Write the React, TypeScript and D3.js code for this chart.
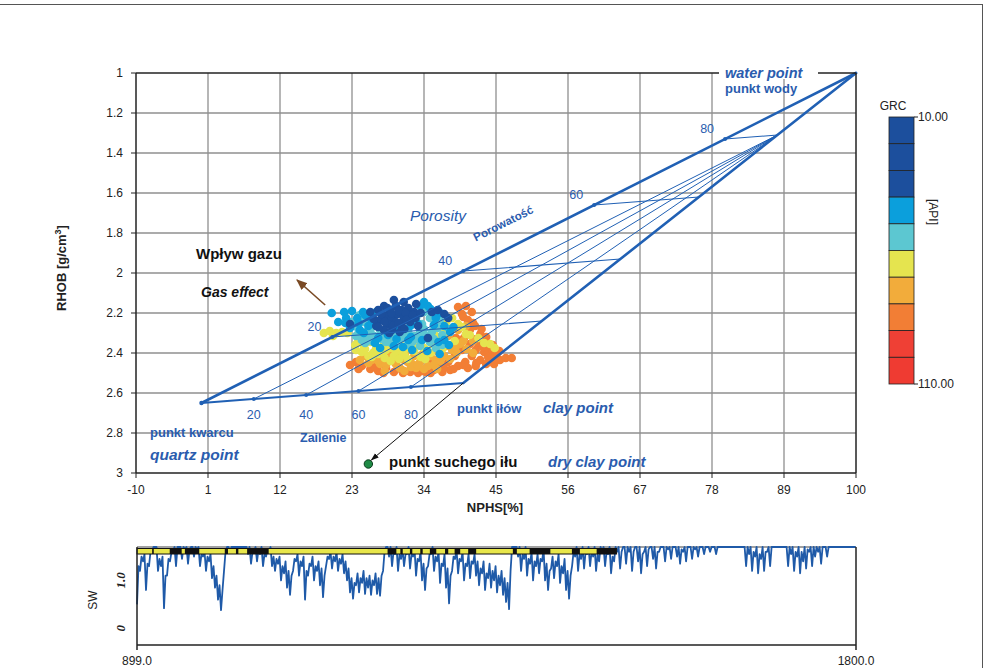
import React from "react";
import * as d3 from "d3";

// Axis ticks of the density–neutron crossplot
const NPHS_TICKS = [-10, 1, 12, 23, 34, 45, 56, 67, 78, 89, 100];
const RHOB_TICKS = [1, 1.2, 1.4, 1.6, 1.8, 2, 2.2, 2.4, 2.6, 2.8, 3];

// Lithology end points [NPHS %, RHOB g/cm3]
const QUARTZ_POINT: [number, number] = [0, 2.65];
const CLAY_POINT: [number, number] = [40, 2.55];
const WATER_POINT: [number, number] = [100, 1.0];
const DRY_CLAY_POINT: [number, number] = [25.5, 2.955];

const POROSITY_STEPS = [20, 40, 60, 80];
const SHALE_STEPS = [20, 40, 60, 80];

// GR colour legend (API)
const GR_RANGE: [number, number] = [10, 110];
const GR_COLORS = [
  "#1c4f9d", "#1c4f9d", "#1c4f9d", "#0b9fdc", "#5cc7d1",
  "#e5e44f", "#f2ac3b", "#f27e35", "#ef4035", "#ef3b32",
];

// Log samples [NPHS %, RHOB g/cm3] grouped by GR reading
const SAMPLES_GR85: [number, number][] = [
  [39.2, 2.17], [40.4, 2.165], [41.3, 2.195], [39.8, 2.205], [40.7, 2.235], [41.8, 2.265],
  [42.6, 2.305], [41.0, 2.285], [43.3, 2.335], [42.3, 2.355], [44.1, 2.385], [43.2, 2.395],
  [44.8, 2.415], [44.1, 2.435], [45.6, 2.435], [46.5, 2.425], [47.4, 2.425], [42.6, 2.435],
  [41.3, 2.415], [40.3, 2.445], [39.2, 2.465], [38.0, 2.485], [36.8, 2.495], [35.5, 2.485],
  [34.3, 2.495], [33.1, 2.5], [31.9, 2.495], [30.6, 2.485], [29.4, 2.495], [28.2, 2.475],
  [27.0, 2.49], [25.8, 2.48], [24.5, 2.465], [23.6, 2.445], [41.9, 2.465], [40.7, 2.475],
  [43.5, 2.455], [44.7, 2.455], [41.0, 2.355], [39.8, 2.385], [38.7, 2.415], [37.7, 2.445],
  [36.4, 2.455], [35.2, 2.445], [38.9, 2.325], [40.1, 2.325], [41.9, 2.385], [42.0, 2.33],
  [43.0, 2.37], [45.2, 2.4], [37.0, 2.47], [32.5, 2.48], [30.0, 2.47], [26.5, 2.47],
  [22.7, 2.46], [43.8, 2.42], [45.0, 2.43], [42.0, 2.45], [40.0, 2.46], [38.5, 2.48],
  [35.0, 2.5], [33.8, 2.49], [30.8, 2.5], [27.8, 2.5], [24.0, 2.48], [41.5, 2.25],
  [42.8, 2.28], [43.5, 2.32], [44.5, 2.36], [45.5, 2.39], [40.0, 2.22],
];
const SAMPLES_GR75: [number, number][] = [
  [25.0, 2.415], [26.0, 2.435], [27.3, 2.455], [28.5, 2.435], [29.7, 2.455], [30.9, 2.435],
  [32.2, 2.455], [33.4, 2.445], [34.6, 2.465], [35.8, 2.435], [37.1, 2.415], [38.3, 2.385],
  [39.5, 2.355], [37.4, 2.365], [36.2, 2.395], [35.0, 2.415], [33.8, 2.405], [32.5, 2.415],
  [31.2, 2.395], [30.0, 2.415], [28.8, 2.395], [27.6, 2.415], [26.4, 2.395], [24.2, 2.435],
  [32.8, 2.475], [30.3, 2.475], [37.7, 2.315], [39.2, 2.285], [40.4, 2.265], [25.5, 2.45],
  [27.0, 2.44], [28.2, 2.46], [29.2, 2.44], [31.5, 2.445], [32.0, 2.47], [33.0, 2.46],
  [34.0, 2.48], [35.5, 2.46], [36.5, 2.44], [38.0, 2.43], [39.0, 2.4], [40.5, 2.38],
  [41.5, 2.4], [38.8, 2.37], [40.0, 2.34], [41.5, 2.34], [36.0, 2.48], [28.0, 2.49],
  [31.0, 2.49],
];
const SAMPLES_GR65: [number, number][] = [
  [18.7, 2.3], [19.6, 2.29], [20.6, 2.3], [21.5, 2.295], [20.1, 2.315], [23.9, 2.345],
  [24.8, 2.365], [25.8, 2.345], [26.7, 2.375], [27.9, 2.355], [29.1, 2.375], [30.3, 2.355],
  [31.6, 2.375], [32.8, 2.355], [24.5, 2.395], [25.5, 2.415], [23.6, 2.385], [27.0, 2.405],
  [29.4, 2.415], [28.2, 2.385], [30.6, 2.395], [34.0, 2.375], [35.2, 2.355], [34.2, 2.43],
  [24.2, 2.325], [37.4, 2.245], [38.3, 2.225], [39.2, 2.255], [37.1, 2.295], [36.4, 2.335],
  [35.8, 2.315], [40.4, 2.305], [44.1, 2.355], [44.8, 2.375], [42.3, 2.325], [28.9, 2.44],
  [31.5, 2.43], [23.5, 2.36], [25.0, 2.38], [26.2, 2.4], [27.8, 2.39], [29.8, 2.39],
  [31.0, 2.41], [32.5, 2.39], [33.5, 2.42], [35.0, 2.4], [26.0, 2.42], [28.0, 2.425],
  [30.2, 2.43], [38.7, 2.34], [39.8, 2.27], [41.0, 2.31], [43.2, 2.35], [36.8, 2.38],
  [22.3, 2.3],
];
const SAMPLES_GR55: [number, number][] = [
  [23.0, 2.245], [23.9, 2.275], [24.8, 2.245], [25.1, 2.295], [26.1, 2.265], [26.4, 2.315],
  [27.3, 2.285], [23.6, 2.315], [24.5, 2.335], [25.5, 2.325], [27.9, 2.315], [28.8, 2.335],
  [29.7, 2.305], [30.6, 2.325], [31.6, 2.295], [32.5, 2.315], [33.4, 2.295], [34.3, 2.315],
  [35.2, 2.295], [36.1, 2.275], [34.9, 2.345], [32.2, 2.345], [30.0, 2.355], [33.4, 2.365],
  [35.8, 2.375], [28.2, 2.345], [32.8, 2.225], [34.0, 2.195], [34.9, 2.225], [36.4, 2.235],
  [33.7, 2.255], [24.2, 2.21], [25.0, 2.35], [26.0, 2.34], [27.5, 2.33], [29.2, 2.32],
  [31.0, 2.31], [33.0, 2.33], [35.5, 2.33], [36.8, 2.31], [37.8, 2.28], [34.0, 2.28],
  [31.5, 2.36], [29.0, 2.35], [24.0, 2.3], [25.8, 2.29], [36.8, 2.36],
];
const SAMPLES_GR45: [number, number][] = [
  [19.9, 2.2], [20.9, 2.245], [21.8, 2.195], [23.0, 2.19], [23.8, 2.225], [24.7, 2.195],
  [22.1, 2.225], [25.8, 2.225], [26.7, 2.195], [25.5, 2.265], [27.6, 2.23], [22.7, 2.275],
  [27.0, 2.325], [30.3, 2.285], [31.9, 2.265], [33.1, 2.255], [34.0, 2.145], [34.6, 2.165],
  [33.4, 2.165], [35.8, 2.225], [37.1, 2.265], [38.0, 2.295], [36.2, 2.345], [37.1, 2.335],
  [31.6, 2.335], [29.4, 2.365], [33.7, 2.335], [32.2, 2.385], [36.4, 2.405], [27.3, 2.375],
  [24.2, 2.285], [25.0, 2.21], [26.0, 2.25], [24.0, 2.25], [22.0, 2.25], [35.0, 2.18],
  [36.5, 2.2], [38.5, 2.27], [35.5, 2.26], [32.0, 2.32], [29.8, 2.33], [26.5, 2.35],
  [30.8, 2.37], [34.5, 2.39], [37.8, 2.36], [28.5, 2.31], [24.8, 2.3],
];
const SAMPLES_GR25: [number, number][] = [
  [27.0, 2.185], [27.9, 2.165], [28.8, 2.185], [29.7, 2.165], [30.6, 2.185], [31.6, 2.175],
  [32.5, 2.195], [28.2, 2.215], [29.1, 2.225], [30.0, 2.205], [30.9, 2.225], [31.9, 2.215],
  [27.3, 2.235], [28.5, 2.255], [29.7, 2.245], [30.6, 2.265], [31.9, 2.245], [29.1, 2.285],
  [27.9, 2.285], [30.3, 2.295], [26.7, 2.265], [25.8, 2.195], [32.8, 2.155], [30.9, 2.145],
  [29.4, 2.135], [33.1, 2.265], [32.7, 2.225], [35.2, 2.195], [36.1, 2.185], [37.1, 2.205],
  [37.7, 2.225], [34.6, 2.325], [22.7, 2.255], [28.4, 2.175], [30.1, 2.19], [31.2, 2.2],
  [29.0, 2.2], [27.5, 2.205], [28.0, 2.245], [29.3, 2.265], [30.1, 2.25], [31.3, 2.235],
  [32.3, 2.21], [33.5, 2.2], [26.3, 2.23], [27.0, 2.27], [28.7, 2.3], [31.0, 2.28],
];
const SAMPLE_LAYERS: { gr: number; pts: [number, number][] }[] = [
  { gr: 85, pts: SAMPLES_GR85 },
  { gr: 75, pts: SAMPLES_GR75 },
  { gr: 65, pts: SAMPLES_GR65 },
  { gr: 55, pts: SAMPLES_GR55 },
  { gr: 45, pts: SAMPLES_GR45 },
  { gr: 25, pts: SAMPLES_GR25 },
];

// Water saturation log: per depth step the low reading and the upper excursion
const SW_TOP_DEPTH = 899;
const SW_BASE_DEPTH = 1800;
const SW_STEP = 3.76;
const SW_VALUES = [
  0.50, 1.20, 1.40, 0.80, 1.30, 1.60, 1.70, 1.20, 1.30, 0.42,
  1.10, 1.40, 1.60, 1.30, 1.70, 1.45, 1.65, 1.35, 1.70, 1.50,
  1.65, 1.30, 1.50, 1.20, 1.40, 1.05, 0.85, 0.60, 0.38, 1.20,
  1.70, 1.60, 1.70, 1.70, 1.70, 1.70, 1.70, 1.55, 1.35, 1.60,
  1.40, 1.55, 1.30, 1.50, 1.60, 1.30, 1.20, 1.35, 1.00, 1.15,
  0.85, 0.70, 1.20, 1.40, 1.10, 1.30, 0.60, 1.10, 1.30, 1.00,
  1.20, 0.90, 0.65, 1.30, 1.45, 1.25, 1.40, 1.20, 1.35, 1.15,
  1.00, 0.75, 0.62, 0.90, 0.75, 0.95, 0.72, 0.85, 0.70, 0.90,
  0.72, 0.68, 1.20, 1.70, 1.50, 1.30, 1.55, 1.20, 1.45, 1.30,
  1.55, 1.25, 1.50, 1.10, 1.40, 1.00, 0.80, 1.30, 1.55, 1.20,
  1.40, 0.95, 1.30, 0.85, 0.52, 1.20, 1.45, 1.15, 1.40, 1.00,
  1.30, 1.05, 1.35, 1.10, 0.90, 1.15, 0.80, 1.05, 0.85, 1.00,
  0.75, 0.90, 0.70, 0.55, 0.40, 1.70, 1.70, 1.50, 1.20, 1.45,
  1.10, 1.35, 1.00, 1.30, 1.15, 1.40, 1.00, 0.80, 1.25, 1.05,
  1.30, 0.95, 1.15, 0.80, 0.62, 1.30, 1.50, 1.20, 1.45, 1.25,
  1.55, 1.30, 1.50, 1.20, 1.40, 1.60, 1.30, 1.55, 1.15, 1.40,
  1.60, 1.25, 1.70, 1.35, 1.60, 1.20, 1.70, 1.40, 1.15, 1.60,
  1.30, 1.70, 1.45, 1.25, 1.60, 1.70, 1.40, 1.65, 1.45, 1.70,
  1.50, 1.35, 1.60, 1.40, 1.70, 1.45, 1.65, 1.50, 1.70, 1.55,
  1.70, 1.60, 1.70, 1.55, 1.70, 1.70, 1.70, 1.70, 1.70, 1.70,
  1.70, 1.70, 1.70, 1.30, 1.55, 1.20, 1.50, 1.15, 1.45, 1.20,
  1.60, 1.30, 1.70, 1.70, 1.70, 1.70, 1.70, 1.30, 1.55, 1.20,
  1.50, 1.15, 1.40, 1.25, 1.60, 1.30, 1.50, 1.60, 1.35, 1.70,
  1.50, 1.70, 1.70, 1.70, 1.70, 1.70, 1.70, 1.70, 1.70, 1.70,
];
const SW_PEAKS = [
  1.30, 1.50, 1.55, 1.35, 1.60, 1.70, 1.70, 1.45, 1.50, 1.10,
  1.45, 1.60, 1.70, 1.70, 1.70, 1.70, 1.70, 1.65, 1.70, 1.70,
  1.70, 1.55, 1.60, 1.50, 1.55, 1.30, 1.10, 0.90, 0.80, 1.60,
  1.70, 1.70, 1.70, 1.70, 1.70, 1.70, 1.70, 1.70, 1.60, 1.70,
  1.65, 1.70, 1.55, 1.65, 1.70, 1.50, 1.45, 1.50, 1.30, 1.40,
  1.20, 1.10, 1.45, 1.55, 1.40, 1.50, 1.20, 1.35, 1.50, 1.30,
  1.40, 1.25, 1.10, 1.50, 1.60, 1.50, 1.60, 1.45, 1.55, 1.40,
  1.25, 1.05, 0.95, 1.15, 1.05, 1.20, 1.05, 1.10, 1.00, 1.15,
  1.05, 1.10, 1.60, 1.70, 1.70, 1.60, 1.70, 1.55, 1.65, 1.55,
  1.70, 1.55, 1.65, 1.45, 1.60, 1.35, 1.25, 1.55, 1.70, 1.50,
  1.60, 1.35, 1.55, 1.25, 1.10, 1.50, 1.65, 1.45, 1.60, 1.35,
  1.55, 1.40, 1.55, 1.40, 1.25, 1.40, 1.15, 1.35, 1.20, 1.30,
  1.10, 1.20, 1.05, 0.95, 1.20, 1.70, 1.70, 1.70, 1.55, 1.70,
  1.45, 1.60, 1.40, 1.55, 1.45, 1.65, 1.35, 1.20, 1.50, 1.40,
  1.55, 1.30, 1.45, 1.20, 1.10, 1.60, 1.70, 1.55, 1.70, 1.60,
  1.70, 1.60, 1.70, 1.55, 1.70, 1.70, 1.60, 1.70, 1.50, 1.70,
  1.70, 1.60, 1.70, 1.70, 1.70, 1.60, 1.70, 1.70, 1.55, 1.70,
  1.65, 1.70, 1.70, 1.60, 1.70, 1.70, 1.70, 1.70, 1.70, 1.70,
  1.70, 1.65, 1.70, 1.70, 1.70, 1.70, 1.70, 1.70, 1.70, 1.70,
  1.70, 1.70, 1.70, 1.70, 1.70, 1.70, 1.70, 1.70, 1.70, 1.70,
  1.70, 1.70, 1.70, 1.70, 1.70, 1.60, 1.70, 1.55, 1.70, 1.60,
  1.70, 1.70, 1.70, 1.70, 1.70, 1.70, 1.70, 1.70, 1.70, 1.60,
  1.70, 1.60, 1.70, 1.65, 1.70, 1.70, 1.70, 1.70, 1.70, 1.70,
  1.70, 1.70, 1.70, 1.70, 1.70, 1.70, 1.70, 1.70, 1.70, 1.70,
];
const SW_LABELS = [
  { v: 1.0, text: "1.0" },
  { v: 0, text: "0" },
];

// Flag track: yellow interval with black flagged depths
const FLAG_TRACK: [number, number] = [899, 1500];
const FLAG_INTERVALS: [number, number][] = [
  [918, 920], [940, 955], [959, 977], [1009, 1013], [1023, 1026], [1037, 1064],
  [1213, 1224], [1229, 1232], [1241, 1244], [1254, 1257], [1266, 1274], [1285, 1289],
  [1297, 1304], [1314, 1324], [1370, 1375], [1391, 1417], [1444, 1454], [1475, 1500],
];

const SANS = "'Liberation Sans', Arial, sans-serif";
const SERIF = "'Liberation Serif', 'DejaVu Serif', serif";
const LINE_BLUE = "#2060b4";
const TEXT_BLUE = "#2a5cae";

type P = [number, number];
const lerp = (a: P, b: P, t: number): P => [a[0] + (b[0] - a[0]) * t, a[1] + (b[1] - a[1]) * t];

export default function App() {
  const x = d3.scaleLinear().domain([-10, 100]).range([136, 856]);
  const y = d3.scaleLinear().domain([1, 3]).range([73, 473]);
  const px = (p: P): P => [x(p[0]), y(p[1])];
  const line = d3.line<P>().x((d) => x(d[0])).y((d) => y(d[1]));

  const grColor = d3.scaleQuantize<string>().domain(GR_RANGE).range(GR_COLORS);

  // iso-porosity and iso-shale construction
  const porosityLines = POROSITY_STEPS.map((p) => {
    const t = p / 100;
    return { p, a: lerp(QUARTZ_POINT, WATER_POINT, t), b: lerp(CLAY_POINT, WATER_POINT, t) };
  });
  const shaleTop = lerp(CLAY_POINT, WATER_POINT, 0.8);
  const shaleLines = SHALE_STEPS.map((s) => {
    const a = lerp(QUARTZ_POINT, CLAY_POINT, s / 100);
    return { s, a, b: shaleTop };
  });

  // colour bar
  const cbY = d3.scaleLinear().domain(GR_RANGE).range([117, 384]);
  const cbStep = (GR_RANGE[1] - GR_RANGE[0]) / GR_COLORS.length;

  // SW track: each depth step contributes its low reading and its upper excursion
  const dx = d3.scaleLinear().domain([SW_TOP_DEPTH, SW_BASE_DEPTH]).range([137, 856]);
  const sy = d3.scaleLinear().domain([-0.35, 1.7]).range([645, 547]).clamp(true);
  const swPoints: P[] = [];
  SW_VALUES.forEach((v, i) => {
    const d = SW_TOP_DEPTH + i * SW_STEP;
    swPoints.push([d, v]);
    swPoints.push([d + SW_STEP / 2, SW_PEAKS[i]]);
  });
  const swPath = d3
    .line<P>()
    .x((d) => dx(d[0]))
    .y((d) => sy(d[1]))(swPoints);

  const cpx = px(CLAY_POINT);
  const wpx = px(WATER_POINT);
  const dcpx = px(DRY_CLAY_POINT);
  const qpx = px(QUARTZ_POINT);

  return (
    <svg
      width={984}
      height={668}
      style={{ position: "absolute", left: 0, top: 0, background: "#fff" }}
      fontFamily={SANS}
    >
      <defs>
        <marker id="arrBrown" viewBox="0 0 10 10" refX="9" refY="5" markerWidth="7" markerHeight="7" orient="auto">
          <path d="M0,1 L10,5 L0,9 z" fill="#7a4a24" />
        </marker>
        <marker id="arrBlack" viewBox="0 0 10 10" refX="9" refY="5" markerWidth="8" markerHeight="8" orient="auto">
          <path d="M0,1.5 L10,5 L0,8.5 z" fill="#111" />
        </marker>
        <clipPath id="plotClip">
          <rect x={136} y={73} width={720} height={400} />
        </clipPath>
      </defs>

      {/* outer frame */}
      <line x1={0} x2={983} y1={4.5} y2={4.5} stroke="#555" strokeWidth={1} />
      <line x1={982.5} x2={982.5} y1={4} y2={668} stroke="#555" strokeWidth={1} />

      {/* grid */}
      <g stroke="#8f8f8f" strokeWidth={1.3}>
        {NPHS_TICKS.slice(1, -1).map((t) => (
          <line key={"gx" + t} x1={x(t)} x2={x(t)} y1={73} y2={473} />
        ))}
        {RHOB_TICKS.slice(1, -1).map((t) => (
          <line key={"gy" + t} x1={136} x2={856} y1={y(t)} y2={y(t)} />
        ))}
      </g>

      {/* samples */}
      <g clipPath="url(#plotClip)">
        {SAMPLE_LAYERS.map((layer) =>
          layer.pts.map((d, i) => (
            <circle key={layer.gr + "-" + i} cx={x(d[0])} cy={y(d[1])} r={4.3} fill={grColor(layer.gr)} />
          ))
        )}
      </g>

      {/* interpretation triangle */}
      <g fill="none" stroke={LINE_BLUE} strokeLinecap="round">
        {shaleLines.map((l) => (
          <path key={"sh" + l.s} d={line([l.a, l.b]) || ""} strokeWidth={1} />
        ))}
        {porosityLines.map((l) => (
          <path key={"po" + l.p} d={line([l.a, l.b]) || ""} strokeWidth={1.1} />
        ))}
        <path d={line([QUARTZ_POINT, CLAY_POINT]) || ""} strokeWidth={2} />
        <path d={line([QUARTZ_POINT, WATER_POINT]) || ""} strokeWidth={2.6} />
        <path d={line([CLAY_POINT, WATER_POINT]) || ""} strokeWidth={2.6} />
      </g>
      <g fill={LINE_BLUE}>
        {porosityLines.map((l) => (
          <circle key={"pm" + l.p} cx={x(l.a[0])} cy={y(l.a[1])} r={2} />
        ))}
        {shaleLines.map((l) => (
          <circle key={"sm" + l.s} cx={x(l.a[0])} cy={y(l.a[1])} r={2} />
        ))}
        <circle cx={qpx[0]} cy={qpx[1]} r={2.2} />
      </g>
      <g fill={TEXT_BLUE} fontSize={12.5}>
        {porosityLines.map((l) => (
          <text key={"pl" + l.p} x={x(l.a[0]) - 11} y={y(l.a[1]) - 6} textAnchor="end">
            {l.p}
          </text>
        ))}
        {shaleLines.map((l) => (
          <text key={"sl" + l.s} x={x(l.a[0])} y={y(2.73)} textAnchor="middle">
            {l.s}
          </text>
        ))}
      </g>

      {/* plot frame */}
      <g stroke="#222" strokeWidth={1.5} fill="none">
        <line x1={136} x2={856} y1={73} y2={73} />
        <line x1={856} x2={856} y1={73} y2={473} />
        <line x1={136} x2={136} y1={73} y2={473} />
        <line x1={136} x2={856} y1={473} y2={473} />
      </g>

      {/* axis ticks */}
      <g stroke="#222" strokeWidth={1}>
        {RHOB_TICKS.map((t) => (
          <line key={"ty" + t} x1={131} x2={136} y1={y(t)} y2={y(t)} />
        ))}
        {NPHS_TICKS.map((t) => (
          <line key={"tx" + t} x1={x(t)} x2={x(t)} y1={473} y2={478} />
        ))}
      </g>
      <g fontSize={12} fill="#222">
        {RHOB_TICKS.map((t) => (
          <text key={"ly" + t} x={123} y={y(t) + 4} textAnchor="end">
            {d3.format("~g")(t)}
          </text>
        ))}
        {NPHS_TICKS.map((t) => (
          <text key={"lx" + t} x={x(t)} y={494} textAnchor="middle">
            {t}
          </text>
        ))}
      </g>
      <text x={495} y={512} textAnchor="middle" fontSize={13} fontWeight="bold" fill="#222">
        NPHS[%]
      </text>
      <text
        transform="translate(66,268) rotate(-90)"
        textAnchor="middle"
        fontSize={13}
        fontWeight="bold"
        fill="#222"
      >
        RHOB [g/cm<tspan dy={-5} fontSize={9}>3</tspan>
        <tspan dy={5}>]</tspan>
      </text>

      {/* annotations */}
      <rect x={719} y={64} width={99} height={15} fill="#fff" />
      <text x={wpx[0] - 131} y={wpx[1] + 5} fontSize={14.5} fontWeight="bold" fontStyle="italic" fill={TEXT_BLUE}>
        water point
      </text>
      <text x={wpx[0] - 131} y={wpx[1] + 20} fontSize={13} fontWeight="bold" fill={TEXT_BLUE}>
        punkt wody
      </text>
      <text x={410} y={221} fontSize={15.5} fontStyle="italic" fill={TEXT_BLUE}>
        Porosity
      </text>
      <text
        transform="translate(505,227) rotate(-26.6)"
        textAnchor="middle"
        fontSize={11.5}
        fontWeight="bold"
        fill={TEXT_BLUE}
      >
        Porowatość
      </text>
      <text x={196} y={259} fontSize={15} fontWeight="bold" fill="#111">
        Wpływ gazu
      </text>
      <text x={201} y={297} fontSize={14} fontWeight="bold" fontStyle="italic" fill="#111">
        Gas effect
      </text>
      <line
        x1={x(18.9)}
        y1={y(2.16)}
        x2={x(14.6)}
        y2={y(2.035)}
        stroke="#7a4a24"
        strokeWidth={1.6}
        markerEnd="url(#arrBrown)"
      />
      <text x={150} y={437} fontSize={13} fontWeight="bold" fill={TEXT_BLUE}>
        punkt kwarcu
      </text>
      <text x={150} y={460} fontSize={15.5} fontWeight="bold" fontStyle="italic" fill={TEXT_BLUE}>
        quartz point
      </text>
      <text x={300} y={442} fontSize={12.5} fontWeight="bold" fill={TEXT_BLUE}>
        Zailenie
      </text>
      <text x={457} y={413} fontSize={13} fontWeight="bold" fill={TEXT_BLUE}>
        punkt iłów
      </text>
      <text x={543} y={413} fontSize={15} fontWeight="bold" fontStyle="italic" fill={TEXT_BLUE}>
        clay point
      </text>
      <line
        x1={cpx[0]}
        y1={cpx[1]}
        x2={dcpx[0] + 3}
        y2={dcpx[1] - 4}
        stroke="#111"
        strokeWidth={1}
        markerEnd="url(#arrBlack)"
      />
      <circle cx={dcpx[0]} cy={dcpx[1]} r={4.2} fill="#1f8a45" stroke="#0d3d1f" strokeWidth={1} />
      <text x={389} y={467} fontSize={15} fontWeight="bold" fill="#111">
        punkt suchego iłu
      </text>
      <text x={548} y={467} fontSize={15} fontWeight="bold" fontStyle="italic" fill={TEXT_BLUE}>
        dry clay point
      </text>

      {/* GR colour bar */}
      <text x={893} y={110} textAnchor="middle" fontSize={12} fill="#222">
        GRC
      </text>
      {GR_COLORS.map((c, i) => (
        <rect
          key={"cb" + i}
          x={889}
          y={cbY(GR_RANGE[0] + i * cbStep)}
          width={25}
          height={cbY(GR_RANGE[0] + (i + 1) * cbStep) - cbY(GR_RANGE[0] + i * cbStep)}
          fill={c}
          stroke="#222"
          strokeWidth={0.8}
        />
      ))}
      <line x1={914} x2={918} y1={cbY(GR_RANGE[0])} y2={cbY(GR_RANGE[0])} stroke="#222" />
      <line x1={914} x2={918} y1={cbY(GR_RANGE[1])} y2={cbY(GR_RANGE[1])} stroke="#222" />
      <text x={918} y={cbY(GR_RANGE[0]) + 4} fontSize={12} fill="#222">
        {GR_RANGE[0].toFixed(2)}
      </text>
      <text x={918} y={cbY(GR_RANGE[1]) + 4} fontSize={12} fill="#222">
        {GR_RANGE[1].toFixed(2)}
      </text>
      <text transform="translate(929,212) rotate(90)" textAnchor="middle" fontSize={12} fill="#222">
        [API]
      </text>

      {/* SW track */}
      <line x1={137} x2={856} y1={547} y2={547} stroke="#444" strokeWidth={1.2} />
      <path d={swPath || ""} fill="none" stroke="#1f5aa8" strokeWidth={1.8} strokeLinejoin="round" />
      <rect
        x={dx(FLAG_TRACK[0])}
        y={548.5}
        width={dx(FLAG_TRACK[1]) - dx(FLAG_TRACK[0])}
        height={5.5}
        fill="#e8e64a"
        stroke="#111"
        strokeWidth={1}
      />
      {FLAG_INTERVALS.map((f, i) => (
        <rect key={"fl" + i} x={dx(f[0])} y={548.5} width={dx(f[1]) - dx(f[0])} height={5.5} fill="#111" />
      ))}
      <g stroke="#222" strokeWidth={1.5}>
        <line x1={137} x2={137} y1={547} y2={650} />
        <line x1={856} x2={856} y1={547} y2={650} />
        <line x1={137} x2={856} y1={645} y2={645} />
      </g>
      <text x={dx(SW_TOP_DEPTH)} y={665} textAnchor="middle" fontSize={12} fill="#222">
        {SW_TOP_DEPTH.toFixed(1)}
      </text>
      <text x={dx(SW_BASE_DEPTH)} y={665} textAnchor="middle" fontSize={12} fill="#222">
        {SW_BASE_DEPTH.toFixed(1)}
      </text>
      <text transform="translate(97,600) rotate(-90)" textAnchor="middle" fontSize={12} fill="#222">
        SW
      </text>
      {SW_LABELS.map((l) => (
        <text
          key={"sw" + l.text}
          transform={`translate(125,${sy(l.v)}) rotate(-90)`}
          textAnchor="middle"
          fontSize={13}
          fontWeight="bold"
          fontStyle="italic"
          fontFamily={SERIF}
          fill="#222"
        >
          {l.text}
        </text>
      ))}
    </svg>
  );
}
